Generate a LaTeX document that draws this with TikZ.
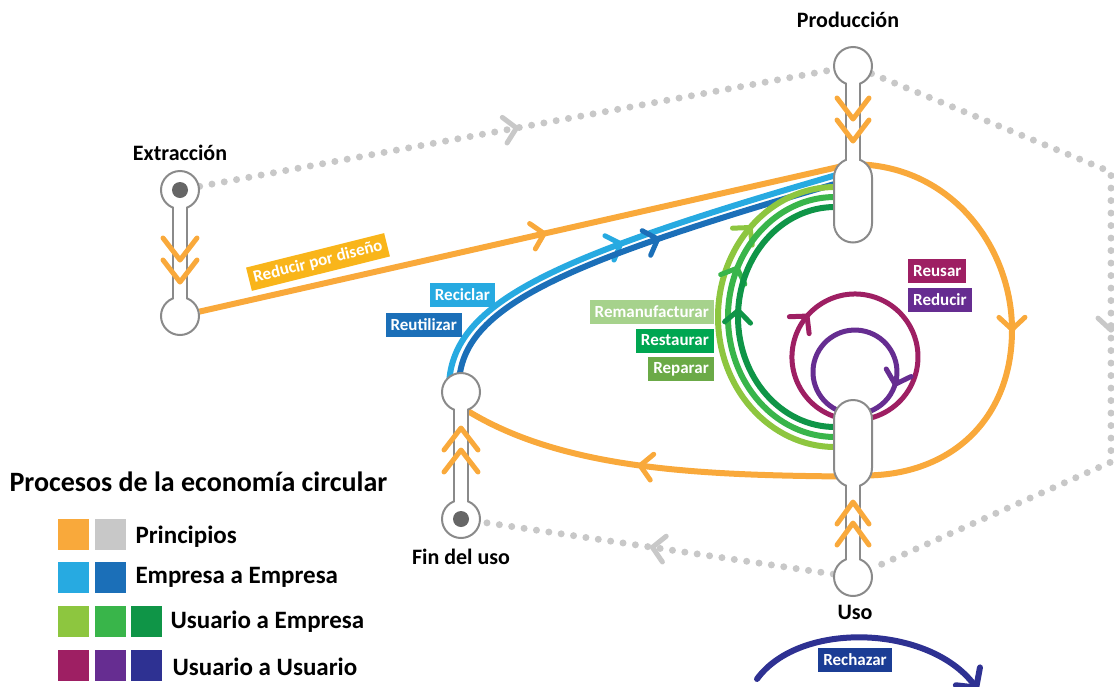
\documentclass[tikz,border=0pt]{standalone}
\usepackage{fontspec}
\setmainfont{Carlito}
\usetikzlibrary{arrows.meta, decorations.markings}

\definecolor{CircOrange}{HTML}{F9A93B}
\definecolor{CircGray}{HTML}{C8C8C8}
\definecolor{PinGray}{HTML}{8A8A8A}
\definecolor{DotGray}{HTML}{666666}
\definecolor{BlueLight}{HTML}{27AAE1}
\definecolor{BlueDark}{HTML}{1B6FB8}
\definecolor{GreenLight}{HTML}{8DC63F}
\definecolor{GreenMid}{HTML}{39B54A}
\definecolor{GreenDark}{HTML}{0F9547}
\definecolor{UserMagenta}{HTML}{9E1F63}
\definecolor{UserPurple}{HTML}{662D91}
\definecolor{UserNavy}{HTML}{2E3192}
\definecolor{TagYellow}{HTML}{F9B51A}
\definecolor{TagPale}{HTML}{A6D28C}
\definecolor{TagGreen}{HTML}{00A651}
\definecolor{TagOlive}{HTML}{6BAA47}
\definecolor{TagNavy}{HTML}{1B3D95}

\pgfdeclarelayer{flows}
\pgfdeclarelayer{stemback}
\pgfdeclarelayer{stemfront}
\pgfsetlayers{flows,stemback,main,stemfront}

\begin{document}
\begin{tikzpicture}[x=1pt, y=1pt,
    pinball/.style={circle, draw=PinGray, line width=2pt, fill=white, minimum size=38pt, inner sep=0pt},
    pinpill/.style={rectangle, rounded corners=19pt, draw=PinGray, line width=2pt, fill=white, minimum width=38pt, minimum height=#1, inner sep=0pt},
    pincore/.style={circle, fill=DotGray, minimum size=16pt, inner sep=0pt},
    pinlabel/.style={font=\fontsize{22}{24}\selectfont\bfseries},
    flow/.style={line width=6pt},
    ring/.style={line width=5pt},
    dots/.style={CircGray, line width=7pt, line cap=round, dash pattern=on 0pt off 12.5pt},
    chevmark/.style={postaction={decorate, decoration={markings, mark=at position #1 with {\draw[solid, line width=5pt, line cap=round, line join=round] (-12pt,13pt) -- (0pt,0pt) -- (-12pt,-13pt);}}}},
    chevron/.style={CircOrange, line width=5pt, line cap=round, line join=round},
    tagbox/.style={fill=#1, text=white, font=\fontsize{17}{19}\selectfont\bfseries, minimum height=24pt, inner xsep=5pt, inner ysep=0pt},
    legsq/.style={fill=#1, minimum size=31pt, inner sep=0pt},
    legtext/.style={font=\fontsize{25}{28}\selectfont\bfseries, anchor=west}
  ]
  \useasboundingbox (0,0) rectangle (1114,-686);

  % Pins
  \node[pinball] (extTop) at (180,-190) {};
  \node[pinball] (extBot) at (180,-316) {};
  \node[pinball] (prodTop) at (853,-66) {};
  \node[pinpill=84pt] (prod) at (853,-200.5) {};
  \node[pinball] (finTop) at (461,-392) {};
  \node[pinball] (finBot) at (461,-519) {};
  \node[pinpill=87pt] (uso) at (853,-443.5) {};
  \node[pinball] (usoBot) at (853,-577) {};

  % Pin labels
  \node[pinlabel] (extLabel) at (180,-153) {Extracción};
  \node[pinlabel] (prodLabel) at (848,-20) {Producción};
  \node[pinlabel] (finLabel) at (461,-557) {Fin del uso};
  \node[pinlabel] (usoLabel) at (855,-612) {Uso};

  % Stems
  \begin{pgfonlayer}{stemback}
    \foreach \a/\b in {extTop/extBot, prodTop/prod, finTop/finBot, uso/usoBot}
      \draw[PinGray, line width=16pt] (\a.center) -- (\b.center);
  \end{pgfonlayer}
  \begin{pgfonlayer}{stemfront}
    \foreach \a/\b in {extTop/extBot, prodTop/prod, finTop/finBot, uso/usoBot}
      \draw[white, line width=12pt] (\a.center) -- (\b.center);
    \node[pincore] (extCore) at (extTop) {};
    \node[pincore] (finCore) at (finBot) {};
    % chevrons on the stems
    \foreach \ty in {260,282}
      \draw[chevron] (163,{-\ty+22}) -- (180,-\ty) -- (197,{-\ty+22});
    \foreach \ty in {119,141}
      \draw[chevron] (837,{-\ty+21}) -- (853,-\ty) -- (869,{-\ty+21});
    \foreach \ty in {428,450}
      \draw[chevron] (444,{-\ty-22}) -- (461,-\ty) -- (478,{-\ty-22});
    \foreach \ty in {502,523}
      \draw[chevron] (837,{-\ty-22}) -- (853,-\ty) -- (869,{-\ty-22});
  \end{pgfonlayer}

  \begin{pgfonlayer}{flows}
    % Dotted principle lines
    \coordinate (dotNE) at (1111,-172);
    \coordinate (dotSE) at (1111,-462);
    \draw[dots, chevmark=0.5] (extTop) -- (prodTop);
    \draw[dots, chevmark=0.514] (prodTop) -- (dotNE) -- (dotSE) -- (usoBot);
    \draw[dots, chevmark=0.513] (usoBot) -- (finBot);

    % Orange loop
    \draw[flow, CircOrange, chevmark=0.534] (extBot) -- ([shift={(-8,35)}]prod.center);
    \draw[flow, CircOrange, chevmark=0.51] ([shift={(10,36)}]prod.center)
      .. controls (955,-170) and (1012,-250) .. (1012,-330)
      .. controls (1012,-420) and (950,-476) .. ([shift={(10,-32)}]uso.center);
    \draw[flow, CircOrange, chevmark=0.52] ([shift={(-10,-33)}]uso.center)
      .. controls (700,-475) and (560,-470) .. ([shift={(2,-16)}]finTop.center);

    % Business to business
    \draw[flow, BlueLight, chevmark=0.5] ([shift={(-12,7)}]finTop.center)
      .. controls (452,-300) and (560,-255) .. ([shift={(-8,28)}]prod.center);
    \draw[flow, BlueDark, chevmark=0.57] ([shift={(-2,8)}]finTop.center)
      .. controls (461,-306) and (565,-262) .. ([shift={(-8,19.5)}]prod.center);

    % User to business
    \draw[flow, GreenLight, chevmark=0.75] ([shift={(-18,-3.5)}]uso.center)
      arc[start angle=270, end angle=90, x radius=117, y radius=130];
    \draw[flow, GreenMid, chevmark=0.64] ([shift={(-18,6.5)}]uso.center)
      arc[start angle=270, end angle=90, x radius=107, y radius=120];
    \draw[flow, GreenDark, chevmark=0.52] ([shift={(-18,16.5)}]uso.center)
      arc[start angle=270, end angle=90, x radius=97, y radius=110];

    % User to user
    \draw[ring, UserMagenta, chevmark=0.343] ([shift={(-17.5,26.6)}]uso.center)
      arc[start angle=252, end angle=-76, radius=63];
    \draw[ring, UserPurple, chevmark=0.834] ([shift={(-12.4,32)}]uso.center)
      arc[start angle=250, end angle=-70, radius=42];
    \coordinate (rejStart) at (757,-679);
    \coordinate (rejEnd) at (978,-690);
    \draw[flow, UserNavy, line cap=round, -{Straight Barb[round, length=14pt, width=30pt]}] (rejStart)
      .. controls (800,-620) and (930,-625) .. (rejEnd);
  \end{pgfonlayer}

  % Process tags
  \node[tagbox=TagYellow, rotate=14] (tagDesign) at (318,-262) {Reducir por diseño};
  \node[tagbox=BlueLight, anchor=east] (tagRecycle) at (495,-295) {Reciclar};
  \node[tagbox=BlueDark, anchor=east] (tagReuse) at (462,-325) {Reutilizar};
  \node[tagbox=TagPale, anchor=east] (tagReman) at (714,-311.5) {Remanufacturar};
  \node[tagbox=TagGreen, anchor=east] (tagRestore) at (714,-340.5) {Restaurar};
  \node[tagbox=TagOlive, anchor=east] (tagRepair) at (714,-369) {Reparar};
  \node[tagbox=UserMagenta, anchor=west] (tagReusar) at (908,-271) {Reusar};
  \node[tagbox=UserPurple, anchor=west] (tagReduce) at (908,-299.5) {Reducir};
  \node[tagbox=TagNavy] (tagReject) at (855,-660) {Rechazar};

  % Legend
  \node[legtext, font=\fontsize{28}{31}\selectfont\bfseries] (legTitle) at (6,-482) {Procesos de la economía circular};
  \node[legsq=CircOrange] (sqA1) at (73,-534) {};
  \node[legsq=CircGray] (sqA2) at (110,-534) {};
  \node[legsq=BlueLight] (sqB1) at (73,-577.5) {};
  \node[legsq=BlueDark] (sqB2) at (110,-577.5) {};
  \node[legsq=GreenLight] (sqC1) at (73,-621) {};
  \node[legsq=GreenMid] (sqC2) at (110,-621) {};
  \node[legsq=GreenDark] (sqC3) at (146,-621) {};
  \node[legsq=UserMagenta] (sqD1) at (73,-665) {};
  \node[legsq=UserPurple] (sqD2) at (110,-665) {};
  \node[legsq=UserNavy] (sqD3) at (146,-665) {};
  \node[legtext] (legA) at (132,-537) {Principios};
  \node[legtext] (legB) at (132,-577) {Empresa a Empresa};
  \node[legtext] (legC) at (167,-622) {Usuario a Empresa};
  \node[legtext] (legD) at (169,-667) {Usuario a Usuario};
\end{tikzpicture}
\end{document}
